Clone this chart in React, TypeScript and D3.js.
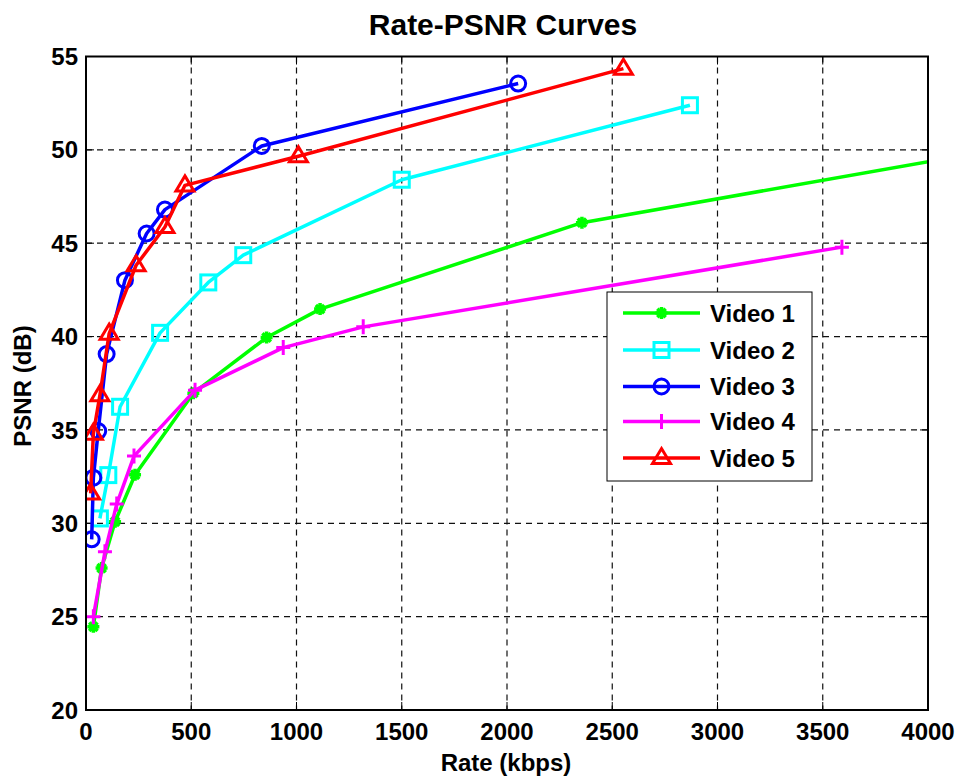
import React from 'react';
import * as d3 from 'd3';

const xTicks = [0, 500, 1000, 1500, 2000, 2500, 3000, 3500, 4000];
const yTicks = [20, 25, 30, 35, 40, 45, 50, 55];

const names = ['Video 1', 'Video 2', 'Video 3', 'Video 4', 'Video 5'];
const colors = ['#00ff00', '#00ffff', '#0000ff', '#ff00ff', '#ff0000'];
const markers = ['star', 'square', 'circle', 'plus', 'triangle'];

const rate1 = [35, 74, 138, 233, 510, 858, 1112, 2356, 4700];
const psnr1 = [24.46, 27.6, 30.08, 32.6, 36.97, 39.95, 41.47, 46.1, 50.75];
const rate2 = [66, 106, 162, 352, 581, 747, 1500, 2869];
const psnr2 = [30.26, 32.58, 36.24, 40.2, 42.9, 44.36, 48.4, 52.39];
const rate3 = [27, 35, 58, 98, 185, 288, 375, 835, 2053];
const psnr3 = [29.14, 32.44, 34.94, 39.06, 43.02, 45.52, 46.8, 50.21, 53.55];
const rate4 = [35, 90, 146, 228, 518, 937, 1317, 3591];
const psnr4 = [25.0, 28.47, 31.03, 33.6, 37.13, 39.41, 40.52, 44.79];
const rate5 = [22, 35, 66, 110, 238, 375, 470, 1009, 2553];
const psnr5 = [31.6, 34.8, 36.86, 40.16, 43.82, 45.87, 48.1, 49.66, 54.35];

const rates = [rate1, rate2, rate3, rate4, rate5];
const psnrs = [psnr1, psnr2, psnr3, psnr4, psnr5];

const W = 956;
const H = 778;
const left = 86, right = 928, top = 56.5, bottom = 710;
const font = '"Liberation Sans", Arial, Helvetica, sans-serif';

const x = d3.scaleLinear().domain([0, 4000]).range([left, right]);
const y = d3.scaleLinear().domain([20, 55]).range([bottom, top]);

const Marker = ({ kind, cx, cy, color }: { kind: string; cx: number; cy: number; color: string }) => {
  const sw = 3;
  if (kind === 'square') {
    return <rect x={cx - 7.5} y={cy - 7.5} width={15} height={15} fill="none" stroke={color} strokeWidth={sw} />;
  }
  if (kind === 'circle') {
    return <circle cx={cx} cy={cy} r={7.5} fill="none" stroke={color} strokeWidth={sw} />;
  }
  if (kind === 'plus') {
    return (
      <path d={`M${cx - 7},${cy}H${cx + 7}M${cx},${cy - 7.5}V${cy + 7.5}`} stroke={color} strokeWidth={sw} fill="none" />
    );
  }
  if (kind === 'star') {
    const r = 6;
    const d = r * 0.7;
    return (
      <path
        d={`M${cx - r},${cy}H${cx + r}M${cx},${cy - r}V${cy + r}M${cx - d},${cy - d}L${cx + d},${cy + d}M${cx - d},${cy + d}L${cx + d},${cy - d}`}
        stroke={color}
        strokeWidth={3.5}
        fill="none"
      />
    );
  }
  // triangle
  const s = 9;
  return (
    <path
      d={`M${cx},${cy - s * 1.05}L${cx + s},${cy + s * 0.62}L${cx - s},${cy + s * 0.62}Z`}
      fill="none"
      stroke={color}
      strokeWidth={sw}
    />
  );
};

const App: React.FC = () => {
  const tick = 8;
  const legX = 607, legY = 292, legW = 205, legH = 189;
  const rowY = [313, 350, 386.5, 421.5, 458];

  return (
    <svg
      width={W}
      height={H}
      style={{ position: 'absolute', left: 0, top: 0, background: '#fff' }}
      fontFamily={font}
      fontWeight="bold"
    >
      <defs>
        <clipPath id="plotclip">
          <rect x={left} y={top} width={right - left} height={bottom - top} />
        </clipPath>
      </defs>
      <rect x={0} y={0} width={W} height={H} fill="#fff" />

      {/* grid */}
      <g stroke="#111" strokeWidth={1.2} strokeDasharray="6,5">
        {xTicks.slice(1, -1).map((t) => (
          <line key={'gx' + t} x1={x(t)} x2={x(t)} y1={top} y2={bottom} />
        ))}
        {yTicks.slice(1, -1).map((t) => (
          <line key={'gy' + t} x1={left} x2={right} y1={y(t)} y2={y(t)} />
        ))}
      </g>

      {/* ticks (inward, all four sides) */}
      <g stroke="#000" strokeWidth={1}>
        {xTicks.map((t) => (
          <g key={'tx' + t}>
            <line x1={x(t)} x2={x(t)} y1={bottom} y2={bottom - tick} />
            <line x1={x(t)} x2={x(t)} y1={top} y2={top + tick} />
          </g>
        ))}
        {yTicks.map((t) => (
          <g key={'ty' + t}>
            <line x1={left} x2={left + tick} y1={y(t)} y2={y(t)} />
            <line x1={right} x2={right - tick} y1={y(t)} y2={y(t)} />
          </g>
        ))}
      </g>

      {/* series */}
      <g clipPath="url(#plotclip)">
        {rates.map((r, i) => {
          const pts = r.map((v, j) => [x(v), y(psnrs[i][j])] as [number, number]);
          const path = d3.line()(pts) || '';
          return (
            <g key={names[i]}>
              <path d={path} fill="none" stroke={colors[i]} strokeWidth={3.5} strokeLinejoin="round" />
              {pts.map(([px, py], j) => (
                <Marker key={j} kind={markers[i]} cx={px} cy={py} color={colors[i]} />
              ))}
            </g>
          );
        })}
      </g>

      {/* box */}
      <rect x={left} y={top} width={right - left} height={bottom - top} fill="none" stroke="#000" strokeWidth={2} />

      {/* tick labels */}
      <g fontSize={24} fill="#000">
        {xTicks.map((t) => (
          <text key={'lx' + t} x={x(t)} y={740} textAnchor="middle">
            {t}
          </text>
        ))}
        {yTicks.map((t) => (
          <text key={'ly' + t} x={left - 8} y={y(t)} dy="0.36em" textAnchor="end">
            {t}
          </text>
        ))}
      </g>

      {/* title and axis labels */}
      <text x={503} y={35} textAnchor="middle" fontSize={30}>
        Rate-PSNR Curves
      </text>
      <text x={506} y={771} textAnchor="middle" fontSize={24}>
        Rate (kbps)
      </text>
      <text transform="translate(31,386) rotate(-90)" textAnchor="middle" fontSize={24}>
        PSNR (dB)
      </text>

      {/* legend */}
      <rect x={legX} y={legY} width={legW} height={legH} fill="#fff" stroke="#000" strokeWidth={1} />
      {names.map((n, i) => (
        <g key={'leg' + n}>
          <line x1={623} x2={700} y1={rowY[i]} y2={rowY[i]} stroke={colors[i]} strokeWidth={3.5} />
          <Marker kind={markers[i]} cx={661.5} cy={rowY[i]} color={colors[i]} />
          <text x={710} y={rowY[i]} dy="0.36em" fontSize={24} fill="#000">
            {n}
          </text>
        </g>
      ))}
    </svg>
  );
};

export default App;
